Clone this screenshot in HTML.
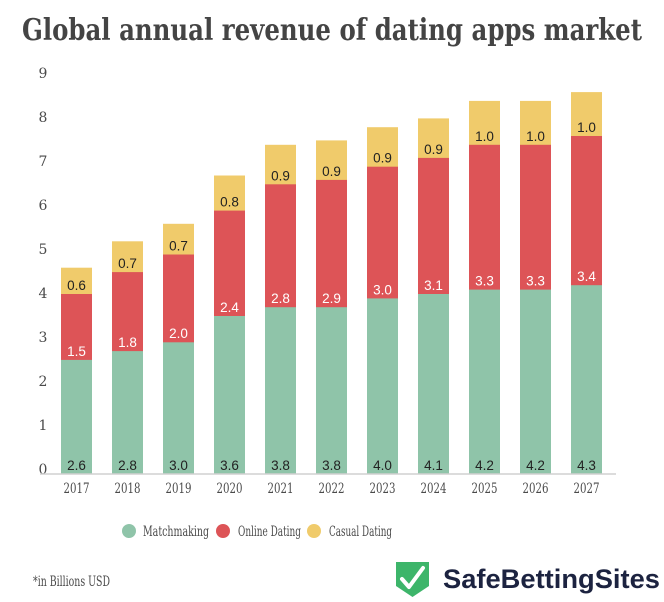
<!DOCTYPE html>
<html><head><meta charset="utf-8"><style>
html,body{margin:0;padding:0;background:#fff;}
svg{display:block;}
.ax{font-family:"DejaVu Serif","Liberation Serif",serif;font-size:14px;fill:#4a4a4a;}
.lb{font-family:"Liberation Sans","DejaVu Sans",sans-serif;font-size:13.5px;text-anchor:middle;}
.d{fill:#222;} .w{fill:#fff;}
</style></head><body>
<svg width="664" height="602" viewBox="0 0 664 602" xmlns="http://www.w3.org/2000/svg">
<rect width="664" height="602" fill="#fff"/>
<text x="22" y="40" font-family="DejaVu Serif, Liberation Serif, serif" font-weight="bold" font-size="30" fill="#444" textLength="620" lengthAdjust="spacingAndGlyphs">Global annual revenue of dating apps market</text>
<g class="ax" text-anchor="middle" font-size="14">
<text x="43" y="474">0</text><text x="43" y="430">1</text><text x="43" y="386">2</text><text x="43" y="342">3</text><text x="43" y="298">4</text><text x="43" y="254">5</text><text x="43" y="210">6</text><text x="43" y="166">7</text><text x="43" y="122">8</text><text x="43" y="78">9</text>
</g>
<g>
<g fill="#f0cb6b">
<rect x="61" y="267.7" width="31" height="206.3"/>
<rect x="112" y="241.3" width="31" height="232.7"/>
<rect x="163" y="223.8" width="31" height="250.2"/>
<rect x="214" y="175.5" width="31" height="298.5"/>
<rect x="265" y="144.8" width="31" height="329.2"/>
<rect x="316" y="140.4" width="31" height="333.6"/>
<rect x="367" y="127.2" width="31" height="346.8"/>
<rect x="418" y="118.4" width="31" height="355.6"/>
<rect x="469" y="100.9" width="31" height="373.1"/>
<rect x="520" y="100.9" width="31" height="373.1"/>
<rect x="571" y="92.1" width="31" height="381.9"/>
</g>
<g fill="#dd5457">
<rect x="61" y="294.0" width="31" height="180"/>
<rect x="112" y="272.1" width="31" height="201.9"/>
<rect x="163" y="254.5" width="31" height="219.5"/>
<rect x="214" y="210.6" width="31" height="263.4"/>
<rect x="265" y="184.3" width="31" height="289.7"/>
<rect x="316" y="179.9" width="31" height="294.1"/>
<rect x="367" y="166.7" width="31" height="307.3"/>
<rect x="418" y="157.9" width="31" height="316.1"/>
<rect x="469" y="144.8" width="31" height="329.2"/>
<rect x="520" y="144.8" width="31" height="329.2"/>
<rect x="571" y="136.0" width="31" height="338"/>
</g>
<g fill="#8fc4a9">
<rect x="61" y="359.9" width="31" height="114.1"/>
<rect x="112" y="351.1" width="31" height="122.9"/>
<rect x="163" y="342.3" width="31" height="131.7"/>
<rect x="214" y="316.0" width="31" height="158"/>
<rect x="265" y="307.2" width="31" height="166.8"/>
<rect x="316" y="307.2" width="31" height="166.8"/>
<rect x="367" y="298.4" width="31" height="175.6"/>
<rect x="418" y="294.0" width="31" height="180"/>
<rect x="469" y="289.6" width="31" height="184.4"/>
<rect x="520" y="289.6" width="31" height="184.4"/>
<rect x="571" y="285.2" width="31" height="188.8"/>
</g>
</g>
<g class="lb">
<text class="d" x="76.5" y="470">2.6</text><text class="w" x="76.5" y="356">1.5</text><text class="d" x="76.5" y="290">0.6</text>
<text class="d" x="127.5" y="470">2.8</text><text class="w" x="127.5" y="347">1.8</text><text class="d" x="127.5" y="268">0.7</text>
<text class="d" x="178.5" y="470">3.0</text><text class="w" x="178.5" y="338">2.0</text><text class="d" x="178.5" y="250.5">0.7</text>
<text class="d" x="229.5" y="470">3.6</text><text class="w" x="229.5" y="312">2.4</text><text class="d" x="229.5" y="206.5">0.8</text>
<text class="d" x="280.5" y="470">3.8</text><text class="w" x="280.5" y="303">2.8</text><text class="d" x="280.5" y="180.3">0.9</text>
<text class="d" x="331.5" y="470">3.8</text><text class="w" x="331.5" y="303">2.9</text><text class="d" x="331.5" y="176">0.9</text>
<text class="d" x="382.5" y="470">4.0</text><text class="w" x="382.5" y="294.4">3.0</text><text class="d" x="382.5" y="162.7">0.9</text>
<text class="d" x="433.5" y="470">4.1</text><text class="w" x="433.5" y="290">3.1</text><text class="d" x="433.5" y="154">0.9</text>
<text class="d" x="484.5" y="470">4.2</text><text class="w" x="484.5" y="285.6">3.3</text><text class="d" x="484.5" y="140.8">1.0</text>
<text class="d" x="535.5" y="470">4.2</text><text class="w" x="535.5" y="285.6">3.3</text><text class="d" x="535.5" y="140.8">1.0</text>
<text class="d" x="586.5" y="470">4.3</text><text class="w" x="586.5" y="281.2">3.4</text><text class="d" x="586.5" y="132">1.0</text>
</g>
<line x1="40" y1="474" x2="616" y2="474" stroke="#d0d0d0" stroke-width="1.5"/>
<g class="ax" text-anchor="middle">
<text x="76.5" y="493" textLength="26" lengthAdjust="spacingAndGlyphs">2017</text>
<text x="127.5" y="493" textLength="26" lengthAdjust="spacingAndGlyphs">2018</text>
<text x="178.5" y="493" textLength="26" lengthAdjust="spacingAndGlyphs">2019</text>
<text x="229.5" y="493" textLength="26" lengthAdjust="spacingAndGlyphs">2020</text>
<text x="280.5" y="493" textLength="26" lengthAdjust="spacingAndGlyphs">2021</text>
<text x="331.5" y="493" textLength="26" lengthAdjust="spacingAndGlyphs">2022</text>
<text x="382.5" y="493" textLength="26" lengthAdjust="spacingAndGlyphs">2023</text>
<text x="433.5" y="493" textLength="26" lengthAdjust="spacingAndGlyphs">2024</text>
<text x="484.5" y="493" textLength="26" lengthAdjust="spacingAndGlyphs">2025</text>
<text x="535.5" y="493" textLength="26" lengthAdjust="spacingAndGlyphs">2026</text>
<text x="586.5" y="493" textLength="26" lengthAdjust="spacingAndGlyphs">2027</text>
</g>
<circle cx="129" cy="531" r="7" fill="#8fc4a9"/>
<text x="143" y="536" class="ax" textLength="66" lengthAdjust="spacingAndGlyphs">Matchmaking</text>
<circle cx="223" cy="531" r="7" fill="#dd5457"/>
<text x="238" y="536" class="ax" textLength="63" lengthAdjust="spacingAndGlyphs">Online Dating</text>
<circle cx="314" cy="531" r="7" fill="#f0cb6b"/>
<text x="329" y="536" class="ax" textLength="63" lengthAdjust="spacingAndGlyphs">Casual Dating</text>
<text x="33" y="586" class="ax" textLength="77" lengthAdjust="spacingAndGlyphs">*in Billions USD</text>
<path d="M396 562 L429 562 L429 586 L412.5 597 L396 586 Z" fill="#3db56a"/>
<path d="M402 579 L409 587 L423 568" stroke="#fff" stroke-width="4" fill="none" stroke-linecap="round" stroke-linejoin="round"/>
<text x="443" y="588" font-family="Liberation Sans, DejaVu Sans, sans-serif" font-weight="bold" font-size="27" fill="#1c2340" textLength="217" lengthAdjust="spacingAndGlyphs">SafeBettingSites</text>
</svg>
</body></html>
